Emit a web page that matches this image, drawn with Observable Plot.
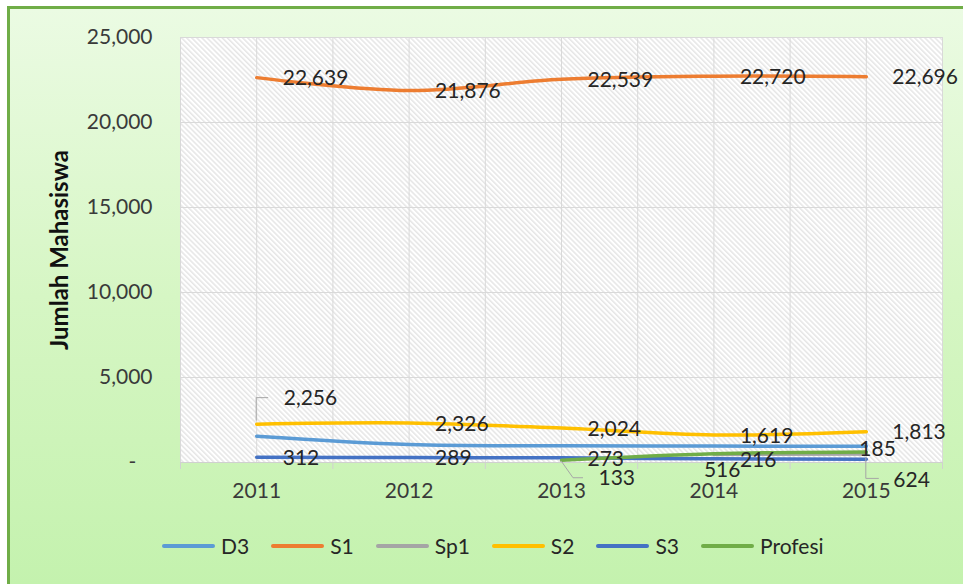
<!DOCTYPE html>
<html><head><meta charset="utf-8">
<script src="https://cdn.jsdelivr.net/npm/d3@7"></script>
<script src="https://cdn.jsdelivr.net/npm/@observablehq/plot@0.6"></script>
<style>
html,body{margin:0;padding:0;background:#fff;overflow:hidden}
#wrap{position:relative;width:963px;height:584px;overflow:hidden;font-family:Lato,sans-serif}
#bg{position:absolute;left:7px;top:6px;width:1000px;height:575px;border-left:3px solid #70ad47;border-top:3px solid #70ad47;border-bottom:1px solid #b2dd9c;background:linear-gradient(to bottom,#ebfbe3 0%,#d6f6c4 50%,#c4f2ae 100%)}
#chart{position:absolute;left:0;top:0}
#legend{position:absolute;left:162px;top:533px;display:flex;align-items:center;font-size:21px;color:#262626;line-height:26px}
.item{display:flex;align-items:center;margin-right:22px}
.sw{width:53px;height:4px;margin-right:6px;border-radius:2px}
</style></head><body>
<svg width="0" height="0" style="position:absolute"><defs><pattern id="hatch" patternUnits="userSpaceOnUse" width="3.6" height="8" patternTransform="rotate(-45)"><line x1="0.8" y1="0" x2="0.8" y2="8" stroke="#dcdcdc" stroke-width="1.1"/></pattern></defs></svg>
<div id="wrap"><div id="bg"></div><div id="chart"></div><div id="legend"></div></div>
<script>
// ---- data ----
const years = [2011, 2012, 2013, 2014, 2015];
const seriesNames = ["D3", "S1", "Sp1", "S2", "S3", "Profesi"];
const D3 = [1550, 1060, 980, 965, 960];
const S1 = [22639, 21876, 22539, 22720, 22696];
const Sp1 = [null, null, null, 470, 500];
const S2 = [2256, 2326, 2024, 1619, 1813];
const S3 = [312, 289, 273, 216, 185];
const Profesi = [null, null, 133, 516, 624];
const labeledSeries = ["S1", "S2", "S3", "Profesi"];
const yTicks = [0, 5000, 10000, 15000, 20000, 25000];
const colors = ["#5b9bd5", "#ed7d31", "#a5a5a5", "#ffc000", "#4472c4", "#70ad47"];

// ---- label placement (pixels) ----
const defaultLabelOffset = [26, 1];
const labelOffsets = {"S2-2011": [27, -26], "S3-2015": [-7, -10], "Profesi-2013": [37, 18], "Profesi-2014": [-10, 17], "Profesi-2015": [27, 28]};
const leaders = [
  {key: "S2-2011", path: [[0, -3], [0, -26], [12, -26]]},
  {key: "Profesi-2013", path: [[0, 1], [12, 18], [22, 18]]},
  {key: "Profesi-2015", path: [[0, 6], [0, 27], [13, 27]]}
];

const seriesData = {D3, S1, Sp1, S2, S3, Profesi};
const rows = [];
for (const s of seriesNames) seriesData[s].forEach((v, i) => { if (v != null) rows.push({series: s, year: years[i], value: v}); });
const labelRows = rows.filter(d => labeledSeries.includes(d.series));
const fmt = d3.format(",");
const bounds = d3.range(0, 6).map(i => years[0] - 0.5 + i);
const halfGrid = d3.range(0, 11).map(i => years[0] - 0.5 + i * 0.5);

const labelMarks = labelRows.map(d => {
  const [dx, dy] = labelOffsets[d.series + "-" + d.year] || defaultLabelOffset;
  return Plot.text([d], {x: "year", y: "value", text: r => fmt(r.value), dx, dy, textAnchor: "start", fontSize: 21, fill: "#262626"});
});

function leaderMark(index, scales) {
  const g = d3.create("svg:g");
  for (const L of leaders) {
    const d = rows.find(r => r.series + "-" + r.year === L.key);
    const px = scales.x(d.year), py = scales.y(d.value);
    g.append("path").attr("d", d3.line()(L.path.map(([a, b]) => [px + a, py + b])))
      .attr("fill", "none").attr("stroke", "#a6a6a6").attr("stroke-width", 1);
  }
  return g.node();
}

const chart = Plot.plot({
  width: 963, height: 584,
  marginLeft: 180, marginRight: 21, marginTop: 37, marginBottom: 122,
  style: {background: "transparent", fontFamily: "Lato, sans-serif", fontSize: "21px", color: "#3a3a3a", overflow: "visible"},
  x: {domain: [years[0] - 0.5, years[years.length - 1] + 0.5]},
  y: {domain: [0, 25000]},
  color: {domain: seriesNames, range: colors},
  marks: [
    Plot.frame({fill: "white"}),
    Plot.frame({fill: "url(#hatch)"}),
    Plot.gridY(yTicks, {stroke: "#d9d9d9", strokeOpacity: 1}),
    Plot.gridX(halfGrid, {stroke: "#d9d9d9", strokeOpacity: 1}),
    Plot.ruleY([0], {stroke: "#d0d0d0"}),
    Plot.axisX(bounds, {tickSize: 7, tickFormat: () => "", stroke: "#d0d0d0", label: null}),
    Plot.axisX(years, {tickSize: 0, tickPadding: 21, tickFormat: d => String(d), label: null, fontSize: 21, fill: "#3a3a3a"}),
    Plot.axisY(yTicks, {tickSize: 0, tickPadding: 28, tickFormat: d => d === 0 ? "-\u00a0\u00a0\u00a0" : fmt(d), label: null, fontSize: 21, fill: "#3a3a3a"}),
    Plot.text(["Jumlah Mahasiswa"], {frameAnchor: "left", textAnchor: "middle", rotate: -90, dx: -120, fontWeight: "bold", fontSize: 24, fill: "#111"}),
    Plot.line(rows, {x: "year", y: "value", z: "series", stroke: "series", strokeWidth: 3.5, curve: "catmull-rom"}),
    leaderMark,
    ...labelMarks
  ]
});
document.getElementById("chart").appendChild(chart);

const legend = document.getElementById("legend");
seriesNames.forEach((s, i) => {
  const it = document.createElement("div"); it.className = "item";
  const sw = document.createElement("span"); sw.className = "sw"; sw.style.background = colors[i];
  const tx = document.createElement("span"); tx.textContent = s;
  it.appendChild(sw); it.appendChild(tx); legend.appendChild(it);
});
</script>
</body></html>
